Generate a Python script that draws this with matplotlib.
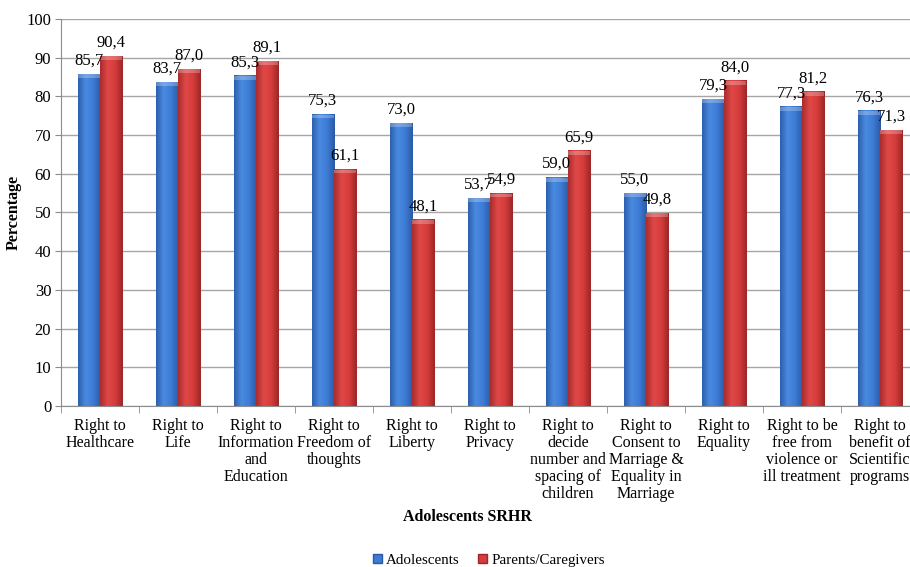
import numpy as np
import matplotlib.pyplot as plt
from matplotlib.colors import LinearSegmentedColormap
from matplotlib.patches import Patch

categories = ["Right to\nHealthcare", "Right to\nLife", "Right to\nInformation\nand\nEducation",
              "Right to\nFreedom of\nthoughts", "Right to\nLiberty", "Right to\nPrivacy",
              "Right to\ndecide\nnumber and\nspacing of\nchildren",
              "Right to\nConsent to\nMarriage &\nEquality in\nMarriage",
              "Right to\nEquality", "Right to be\nfree from\nviolence or\nill treatment",
              "Right to\nbenefit of\nScientific\nprograms"]
adolescents = [85.7, 83.7, 85.3, 75.3, 73.0, 53.7, 59.0, 55.0, 79.3, 77.3, 76.3]
parents = [90.4, 87.0, 89.1, 61.1, 48.1, 54.9, 65.9, 49.8, 84.0, 81.2, 71.3]

plt.rcParams['font.family'] = ['Liberation Serif', 'DejaVu Serif']

fig = plt.figure(figsize=(9.1, 5.67), dpi=100)
ax = fig.add_axes([0.067, 0.284, 0.943, 0.6825])

x = np.arange(len(categories))
w = 0.285

blue_cm = LinearSegmentedColormap.from_list("b", ["#2c5fae", "#4a8ae0", "#3d7bd4", "#2a5aa6"])
red_cm = LinearSegmentedColormap.from_list("r", ["#a82c2c", "#e04848", "#d63c3c", "#9c2626"])

grad = np.linspace(0, 1, 64).reshape(1, -1)

def draw_bars(pos, vals, cmap, base):
    bars = ax.bar(pos, vals, w, color=base, edgecolor="none", zorder=2)
    for b in bars:
        x0, y0 = b.get_x(), b.get_y()
        bw, bh = b.get_width(), b.get_height()
        ax.imshow(grad, cmap=cmap, aspect="auto", extent=[x0, x0 + bw, y0, y0 + bh],
                  zorder=2.1, interpolation="bicubic")
        # top bevel
        ax.add_patch(plt.Rectangle((x0, y0 + bh - 1.0), bw, 1.0, color="white",
                                   alpha=0.25, lw=0, zorder=2.2))
    return bars

b1 = draw_bars(x - w / 2, adolescents, blue_cm, "#3d7bd4")
b2 = draw_bars(x + w / 2, parents, red_cm, "#d63c3c")

for bars, vals in ((b1, adolescents), (b2, parents)):
    for b, v in zip(bars, vals):
        ax.annotate(f"{v:.1f}".replace(".", ","),
                    (b.get_x() + b.get_width() / 2, b.get_height()),
                    xytext=(0, 4), textcoords="offset points",
                    ha="center", va="bottom", fontsize=12, zorder=5)

ax.set_xlim(-0.5, len(categories) - 0.5)
ax.set_ylim(0, 100)
ax.set_yticks(range(0, 101, 10))
ax.yaxis.grid(True, color="#a6a6a6", lw=1.0, zorder=0)
ax.set_axisbelow(True)

ax.set_xticks(x)
ax.set_xticklabels(categories, fontsize=11.5, linespacing=1.07)
ax.set_xticks(np.arange(-0.5, len(categories), 1), minor=True)
ax.tick_params(axis="x", which="major", length=0, pad=9)
ax.tick_params(axis="x", which="minor", length=5, color="#8c8c8c")
ax.tick_params(axis="y", length=4, color="#8c8c8c", labelsize=12, pad=3)

for s in ("top", "right"):
    ax.spines[s].set_visible(False)
for s in ("left", "bottom"):
    ax.spines[s].set_color("#8c8c8c")

ax.set_ylabel("Percentage", fontsize=11.5, fontweight="bold", labelpad=3)
fig.text(0.514, 0.088, "Adolescents SRHR", ha="center", va="center",
         fontsize=11.5, fontweight="bold")

handles = [Patch(facecolor="#3d7bd4", edgecolor="#2a5aa6", label="Adolescents"),
           Patch(facecolor="#d63c3c", edgecolor="#9c2626", label="Parents/Caregivers")]
fig.legend(handles=handles, loc="center", bbox_to_anchor=(0.537, 0.012), ncol=2,
           frameon=False, fontsize=10.8, handlelength=0.6, handleheight=0.6,
           handletextpad=0.3, columnspacing=1.2)

fig.savefig("out.png", dpi=100)
